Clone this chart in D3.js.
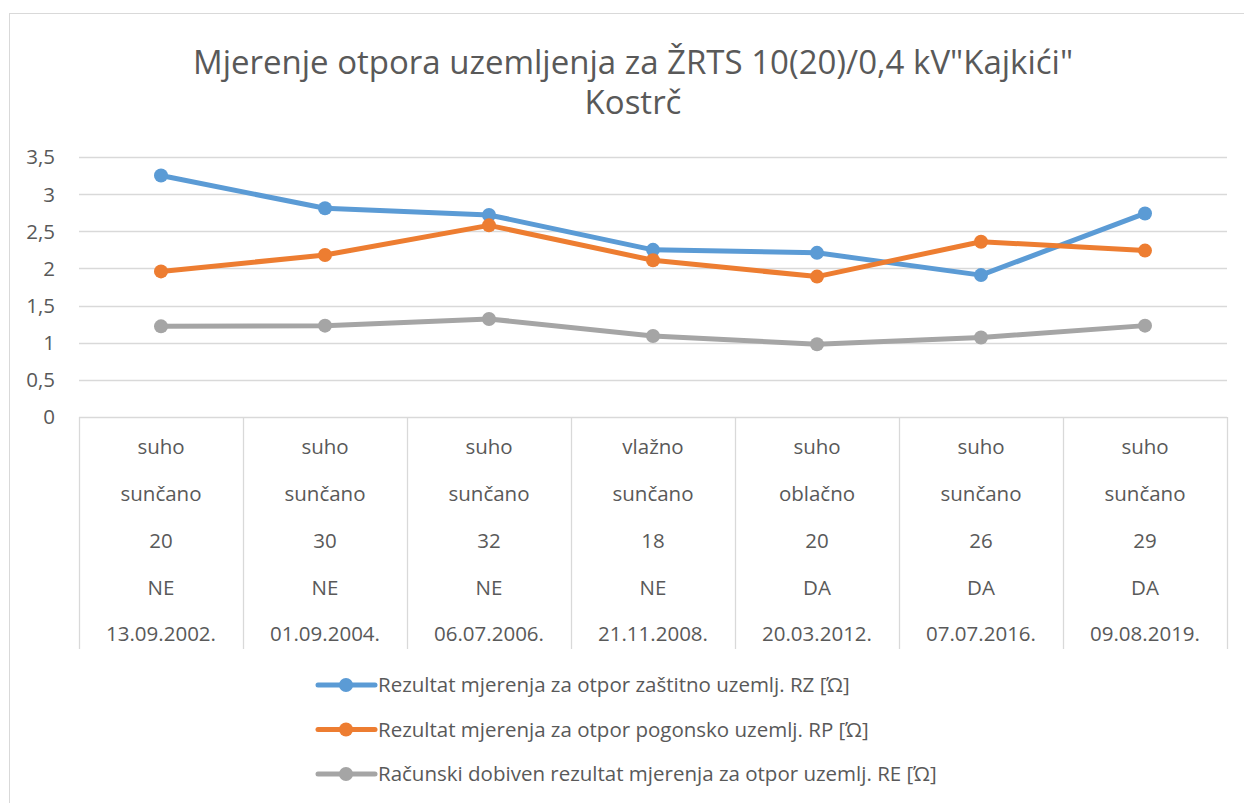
<!DOCTYPE html>
<html>
<head>
<meta charset="utf-8">
<script src="https://cdn.jsdelivr.net/npm/d3@7"></script>
<style>
  html, body { margin: 0; padding: 0; background: #fff; }
  svg { display: block; font-family: "Open Sans", "Noto Sans", sans-serif; }
</style>
</head>
<body>
<svg id="chart" width="1244" height="803"></svg>
<script>
// Measurement conditions per date (multi-level category axis, top to bottom)
const soil      = ["suho", "suho", "suho", "vlažno", "suho", "suho", "suho"];
const weather   = ["sunčano", "sunčano", "sunčano", "sunčano", "oblačno", "sunčano", "sunčano"];
const temps     = ["20", "30", "32", "18", "20", "26", "29"];
const flags     = ["NE", "NE", "NE", "NE", "DA", "DA", "DA"];
const dates     = ["13.09.2002.", "01.09.2004.", "06.07.2006.", "21.11.2008.", "20.03.2012.", "07.07.2016.", "09.08.2019."];

// Resistance values [Ω]
const rz = [3.25, 2.81, 2.72, 2.25, 2.21, 1.91, 2.74];
const rp = [1.96, 2.18, 2.58, 2.11, 1.89, 2.36, 2.24];
const re = [1.22, 1.23, 1.32, 1.09, 0.98, 1.07, 1.23];

const yTicks = [0, 0.5, 1, 1.5, 2, 2.5, 3, 3.5];

const seriesNames = [
  "Rezultat mjerenja za otpor zaštitno uzemlj. RZ [Ώ]",
  "Rezultat mjerenja za otpor pogonsko uzemlj. RP [Ώ]",
  "Računski dobiven rezultat mjerenja za otpor uzemlj. RE [Ώ]"
];
const seriesColors = ["#5B9BD5", "#ED7D31", "#A5A5A5"];
const series = [rz, rp, re];

const titleLines = ["Mjerenje otpora uzemljenja za ŽRTS 10(20)/0,4 kV\"Kajkići\"", "Kostrč"];

const svg = d3.select("#chart");
const textColor = "#595959";
const gridColor = "#D9D9D9";

// chart frame
svg.append("rect")
  .attr("x", 9.5).attr("y", 13.5)
  .attr("width", 1260).attr("height", 820)
  .attr("fill", "none").attr("stroke", gridColor).attr("stroke-width", 1);

const plot = { left: 79, right: 1227, top: 157, bottom: 417 };

const x = d3.scaleBand()
  .domain(d3.range(dates.length))
  .range([plot.left, plot.right])
  .padding(0);

const y = d3.scaleLinear()
  .domain([0, 3.5])
  .range([plot.bottom, plot.top]);

// title
const title = svg.append("text")
  .attr("text-anchor", "middle")
  .attr("fill", textColor)
  .attr("font-size", 33);
titleLines.forEach((t, i) => {
  title.append("tspan").attr("x", 633).attr("y", 74 + i * 40).text(t);
});

// horizontal gridlines
svg.append("g")
  .selectAll("line")
  .data(yTicks.filter(d => d > 0))
  .join("line")
  .attr("x1", plot.left).attr("x2", plot.right)
  .attr("y1", d => Math.round(y(d)) + 0.5).attr("y2", d => Math.round(y(d)) + 0.5)
  .attr("stroke", gridColor).attr("stroke-width", 1.3);

// y axis labels
const fmt = d => String(d).replace(".", ",");
svg.append("g")
  .selectAll("text")
  .data(yTicks)
  .join("text")
  .attr("x", 55)
  .attr("y", d => y(d))
  .attr("dy", "0.36em")
  .attr("text-anchor", "end")
  .attr("fill", textColor)
  .attr("font-size", 20.5)
  .text(fmt);

// category table: baseline and column dividers
const tableBottom = 649;
const cat = svg.append("g");
cat.append("line")
  .attr("x1", plot.left).attr("x2", plot.right)
  .attr("y1", plot.bottom + 0.5).attr("y2", plot.bottom + 0.5)
  .attr("stroke", gridColor).attr("stroke-width", 1.3);
const dividers = d3.range(dates.length).map(i => x(i)).concat([plot.right]);
cat.selectAll("line.div")
  .data(dividers)
  .join("line")
  .attr("class", "div")
  .attr("x1", d => Math.round(d) + 0.5).attr("x2", d => Math.round(d) + 0.5)
  .attr("y1", plot.bottom).attr("y2", tableBottom)
  .attr("stroke", gridColor).attr("stroke-width", 1.3);

const rows = [soil, weather, temps, flags, dates];
const rowY = [447, 494, 541, 588, 634];
rows.forEach((row, r) => {
  cat.append("g")
    .selectAll("text")
    .data(row)
    .join("text")
    .attr("x", (d, i) => x(i) + x.bandwidth() / 2)
    .attr("y", rowY[r])
    .attr("dy", "0.36em")
    .attr("text-anchor", "middle")
    .attr("fill", textColor)
    .attr("font-size", 20.5)
    .text(d => d);
});

// series lines and markers
const line = d3.line()
  .x((d, i) => x(i) + x.bandwidth() / 2)
  .y(d => y(d));

series.forEach((vals, s) => {
  const g = svg.append("g");
  g.append("path")
    .datum(vals)
    .attr("d", line)
    .attr("fill", "none")
    .attr("stroke", seriesColors[s])
    .attr("stroke-width", 5)
    .attr("stroke-linejoin", "round")
    .attr("stroke-linecap", "round");
  g.selectAll("circle")
    .data(vals)
    .join("circle")
    .attr("cx", (d, i) => x(i) + x.bandwidth() / 2)
    .attr("cy", d => y(d))
    .attr("r", 7)
    .attr("fill", seriesColors[s]);
});

// legend
const legend = svg.append("g");
seriesNames.forEach((name, i) => {
  const ly = 685 + i * 44.5;
  const item = legend.append("g");
  item.append("line")
    .attr("x1", 318).attr("x2", 375)
    .attr("y1", ly).attr("y2", ly)
    .attr("stroke", seriesColors[i]).attr("stroke-width", 5)
    .attr("stroke-linecap", "round");
  item.append("circle")
    .attr("cx", 346).attr("cy", ly).attr("r", 7)
    .attr("fill", seriesColors[i]);
  item.append("text")
    .attr("x", 378).attr("y", ly)
    .attr("dy", "0.36em")
    .attr("fill", textColor)
    .attr("font-size", 20.5)
    .text(name);
});
</script>
</body>
</html>
